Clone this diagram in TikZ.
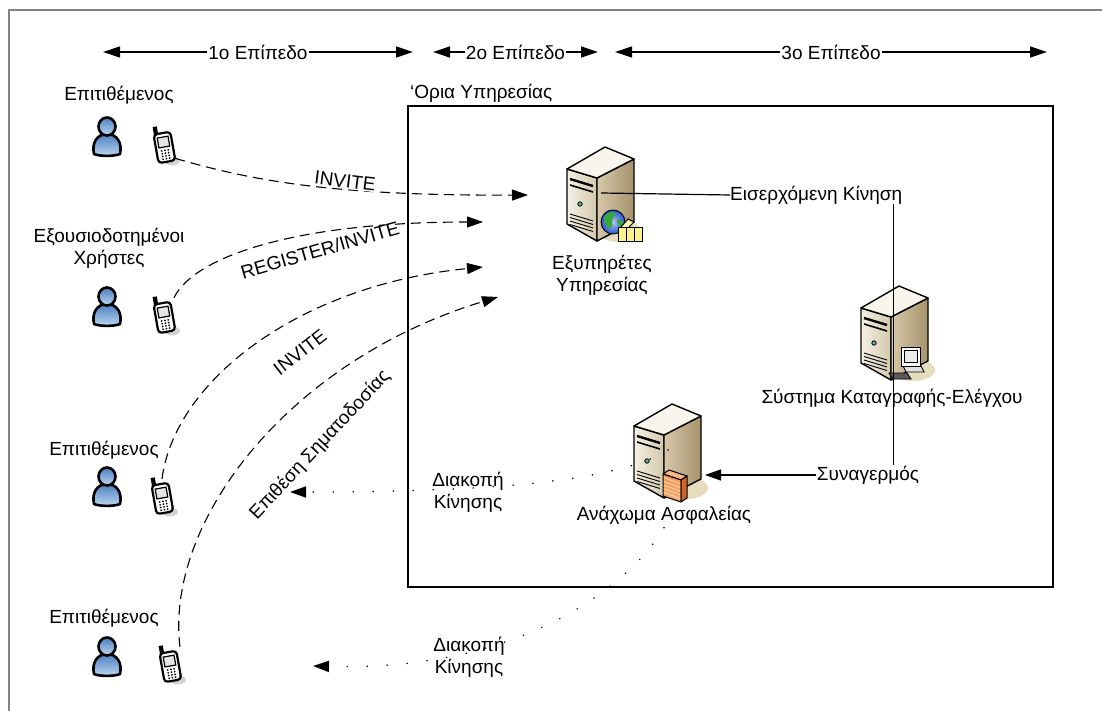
\documentclass[tikz,border=0pt]{standalone}
\usepackage{fontspec}
\setmainfont{Liberation Sans}
\usetikzlibrary{arrows.meta}

\definecolor{frameGray}{RGB}{130,130,130}
\definecolor{userLight}{RGB}{190,216,242}
\definecolor{userDark}{RGB}{76,126,190}
\definecolor{caseFront}{RGB}{244,240,228}
\definecolor{caseFrontDark}{RGB}{212,200,172}
\definecolor{caseSide}{RGB}{214,200,170}
\definecolor{caseSideDark}{RGB}{166,146,108}
\definecolor{caseTop}{RGB}{248,245,236}
\definecolor{caseShadow}{RGB}{230,220,190}
\definecolor{phoneShadow}{RGB}{210,210,210}
\definecolor{phoneScreen}{RGB}{228,228,228}
\definecolor{brick}{RGB}{246,150,80}
\definecolor{brickDark}{RGB}{206,100,44}
\definecolor{globeBlue}{RGB}{36,86,206}
\definecolor{globeGreen}{RGB}{56,168,60}
\definecolor{boxYellow}{RGB}{252,242,140}

\tikzset{
  bigtip/.style={-{Triangle[length=16pt,width=11pt]}},
  level/.style={line width=1.3pt,
    {Triangle[length=17pt,width=11pt]}-{Triangle[length=17pt,width=11pt]}},
  lvltag/.style={fill=white, inner sep=1pt},
  sig/.style={line width=1.1pt, dash pattern=on 10pt off 6pt, bigtip},
  cut/.style={line width=1.7pt, line cap=round, dash pattern=on 0pt off 20pt, bigtip},
  phonebox/.style={inner sep=0pt, minimum width=22pt, minimum height=34pt},
  % user figure (pics keep y pointing up, so flip them)
  personicon/.pic={
    \begin{scope}[yscale=-1]
    \draw[line width=2.6pt, line join=round, top color=userDark, bottom color=userLight]
      (-13,14) .. controls (-15.5,3) and (-10,-6) .. (0,-6) .. controls (10,-6) and (15.5,3) .. (13,14)
      .. controls (7,16.5) and (-7,16.5) .. cycle;
    \draw[line width=2.6pt, top color=userDark, bottom color=userLight] (0,-13.5) ellipse (8.5 and 9);
    \end{scope}
  },
  % mobile handset
  phoneicon/.pic={
    \begin{scope}[yscale=-1]
    \fill[phoneShadow] (8,16) ellipse (8 and 4.5);
    \begin{scope}[rotate=-10]
      \draw[line width=2.2pt, fill=white, rounded corners=3.5pt] (-8.5,-12) rectangle (8.5,17);
      \draw[line width=1.2pt, fill=black] (-7.5,-12) rectangle (-4.5,-19);
      \draw[line width=1.2pt, fill=phoneScreen] (-5.5,-8) rectangle (5.5,2);
      \foreach \r in {0,...,3}
        \foreach \c in {-1,0,1}
          \fill (3.3*\c,5.5+2.8*\r) circle (1);
    \end{scope}
    \end{scope}
  },
  % tower server
  servericon/.pic={
    \begin{scope}[yscale=-1]
    \fill[caseShadow] (18,38) ellipse (22 and 11);
    \draw[line width=1.4pt, line join=round, left color=caseFront, right color=caseFrontDark]
      (-34,-24) -- (-4,-15) -- (-4,48) -- (-34,31) -- cycle;
    \draw[line width=1.4pt, line join=round, left color=caseSide, right color=caseSideDark]
      (-4,-15) -- (33,-34) -- (33,29) -- (-4,48) -- cycle;
    \draw[line width=1.4pt, line join=round, fill=caseTop]
      (-34,-24) -- (-4,-15) -- (33,-34) -- (4,-46) -- cycle;
    \draw[line width=2.4pt] (-31,-14) -- (-8,-7);
    \draw[line width=1.6pt] (-31,-8) -- (-8,-1);
    \draw[line width=0.8pt, fill=teal!60] (-21,11) circle (2.2);
    \foreach \v in {0,1,2,3}
      \draw[line width=0.9pt] (-31,21+3.5*\v) -- (-8,28+3.5*\v);
    \end{scope}
  },
  globeicon/.pic={
    \begin{scope}[yscale=-1]
    \draw[line width=0.9pt, inner color=globeBlue!35, outer color=globeBlue] (0,0) circle (12);
    \fill[globeGreen] (-9,-5) .. controls (-6,-10) and (0,-11) .. (3,-8) .. controls (1,-5) and (-2,-3) .. (-1,1)
      .. controls (1,4) and (-3,8) .. (-6,5) .. controls (-8,2) and (-10,-2) .. cycle;
    \fill[globeGreen] (4,-2) .. controls (8,-4) and (11,0) .. (9,4) .. controls (6,5) and (4,2) .. cycle;
    \end{scope}
  },
  boxicon/.pic={
    \begin{scope}[yscale=-1]
    \draw[line width=1pt, fill=boxYellow!70] (2,0) -- (10,-9) -- (16,-6) -- (10,0) -- cycle;
    \draw[line width=1pt, fill=boxYellow] (0,0) rectangle (24,14);
    \draw[line width=0.8pt] (8,0) -- (8,14) (16,0) -- (16,14);
    \end{scope}
  },
  wallicon/.pic={
    \begin{scope}[yscale=-1]
    \draw[line width=1pt, line join=round, fill=brick!70] (0,4) -- (6,0) -- (24,6) -- (18,10) -- cycle;
    \draw[line width=1pt, line join=round, top color=brick, bottom color=brick!80] (0,4) -- (18,10) -- (18,32) -- (0,26) -- cycle;
    \draw[line width=1pt, line join=round, fill=brickDark] (18,10) -- (24,6) -- (24,28) -- (18,32) -- cycle;
    \foreach \k in {1,...,5}
      \draw[white!70!brick, line width=0.7pt] (0.8,4+3.7*\k) -- (17.2,10+3.7*\k);
    \end{scope}
  },
  monitoricon/.pic={
    \begin{scope}[yscale=-1]
    \draw[line width=0.9pt, fill=black!65] (-20,13) -- (-2,13) -- (2,19) -- (-16,19) -- cycle;
    \draw[line width=0.9pt, fill=black!12] (-6,6) -- (12,6) -- (15,12) -- (-3,12) -- cycle;
    \draw[line width=1pt, fill=white] (-8,-13) rectangle (11,6);
    \draw[line width=0.8pt, fill=black!8] (-5,-10) rectangle (8,2);
    \end{scope}
  }
}

\begin{document}
\begin{tikzpicture}[x=1pt,y=1pt,yscale=-1,
  every node/.style={font=\fontsize{19}{22}\selectfont, align=center}]
\useasboundingbox (0,0) rectangle (1102,711);

%Outer frame
\draw[frameGray, line width=1.6pt] (9,725) -- (9,10) -- (1115,10);

%Levels
\coordinate (l1a) at (103,52);
\coordinate (l1b) at (413,52);
\coordinate (l2a) at (433,52);
\coordinate (l2b) at (598,52);
\coordinate (l3a) at (615,52);
\coordinate (l3b) at (1047,52);
\draw[level] (l1a) -- (l1b) node[midway, lvltag] (lvl1) {1ο Επίπεδο};
\draw[level] (l2a) -- (l2b) node[midway, lvltag] (lvl2) {2ο Επίπεδο};
\draw[level] (l3a) -- (l3b) node[midway, lvltag] (lvl3) {3ο Επίπεδο};

%Service boundary
\draw[line width=1.2pt] (408,106) rectangle (1053,587);
\draw (410,93) node[anchor=west, inner sep=0pt] (bound) {‘Ορια Υπηρεσίας};

%Users and handsets
\draw (119,95) node (att1) {Επιτιθέμενος};
\draw (109,248) node (auth) {Εξουσιοδοτημένοι\\Χρήστες};
\draw (104,450) node (att2) {Επιτιθέμενος};
\draw (104,618) node (att3) {Επιτιθέμενος};
\pic at (107,140) {personicon};
\pic at (107,310) {personicon};
\pic at (107,490) {personicon};
\pic at (107,660) {personicon};
\pic at (164,145) {phoneicon};
\pic at (164,315) {phoneicon};
\pic at (162,496) {phoneicon};
\pic at (170,664) {phoneicon};
\node[phonebox] (ph1) at (164,145) {};
\node[phonebox] (ph2) at (164,315) {};
\node[phonebox] (ph3) at (162,496) {};
\node[phonebox] (ph4) at (170,664) {};

%Servers
\coordinate (sv1) at (601,193);
\coordinate (sv2) at (895,332);
\coordinate (fw) at (668,450);
\pic at (sv1) {servericon};
\pic at (613,222) {globeicon};
\pic at (618,228) {boxicon};
\pic at (sv2) {servericon};
\pic at (909,360) {monitoricon};
\pic at (fw) {servericon};
\pic at (663,470) {wallicon};
\draw (602,275) node (sv1lbl) {Εξυπηρέτες\\Υπηρεσίας};
\draw (892,398) node (sv2lbl) {Σύστημα Καταγραφής-Ελέγχου};
\draw (664,515) node (fwlbl) {Ανάχωμα Ασφαλείας};

%Monitoring path
\draw (730,195) node[anchor=west, inner sep=0pt] (inc) {Εισερχόμενη Κίνηση};
\draw (868,475) node[inner sep=1pt] (alarm) {Συναγερμός};
\coordinate (fwin) at (705,475);
\draw[line width=1.2pt] (sv1) -- (inc.west);
\draw[line width=1.2pt] ([xshift=-9pt]inc.south east) -- ([xshift=-9pt]inc.south east |- alarm.north);
\draw[line width=1.2pt, bigtip] (alarm.west) -- (fwin);

%Signalling
\coordinate (in1) at (528,195);
\coordinate (in2) at (483,222);
\coordinate (in3) at (483,267);
\coordinate (in4) at (498,297);
\draw[sig] (ph1.-50) .. controls (250,180) and (330,196) .. (in1);
\draw[sig] (ph2.60) .. controls (195,255) and (300,222) .. (in2);
\draw[sig] (ph3.north) .. controls (175,380) and (300,285) .. (in3);
\draw[sig] (ph4.60) .. controls (165,520) and (290,360) .. (in4);
\draw (345,181) node[rotate=-7, fill=white, inner sep=1pt] (inv1) {INVITE};
\draw (320,250) node[rotate=16, inner sep=1pt] (reg) {REGISTER/INVITE};
\draw (300,352) node[rotate=38, inner sep=1pt] (inv2) {INVITE};
\draw (320,445) node[rotate=47, inner sep=1pt] (att) {Επιθέση Σηματοδοσίας};

%Blocked traffic
\coordinate (cut1) at (290,492);
\coordinate (cut2) at (313,666);
\draw[cut] (fw) .. controls (620,480) and (500,492) .. (cut1);
\draw[cut] (fwlbl.south) .. controls (640,570) and (540,672) .. (cut2);
\draw (468,492) node (stop1) {Διακοπή\\Κίνησης};
\draw (469,657) node (stop2) {Διακοπή\\Κίνησης};

\end{tikzpicture}
\end{document}
